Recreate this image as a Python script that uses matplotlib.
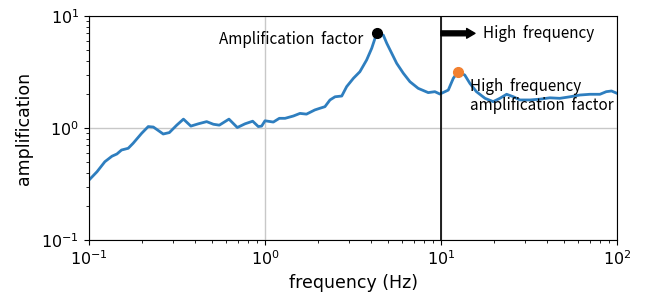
import matplotlib.pyplot as plt
import numpy as np

# Amplification spectrum
freq = [0.1, 0.111, 0.123, 0.135, 0.144, 0.153, 0.167, 0.178, 0.199, 0.217,
        0.232, 0.264, 0.286, 0.315, 0.344, 0.379, 0.418, 0.466, 0.509, 0.55,
        0.624, 0.696, 0.77, 0.851, 0.916, 0.957, 1.0, 1.115, 1.206, 1.30,
        1.45, 1.58, 1.72, 1.92, 2.05, 2.19, 2.34, 2.50, 2.73, 2.91,
        3.18, 3.46, 3.78, 4.04, 4.31, 4.70, 4.92, 5.25, 5.60, 6.11,
        6.66, 7.42, 8.46, 9.23, 9.86, 11.0, 11.75, 12.5, 13.65, 14.6,
        15.9, 17.8, 19.8, 21.6, 23.6, 25.8, 28.1, 32.1, 36.6, 41.6,
        47.3, 54.1, 61.6, 70.2, 80.0, 86.9, 93.1, 100.0]
amp = [0.343, 0.407, 0.50, 0.56, 0.586, 0.636, 0.659, 0.73, 0.896, 1.03,
       1.02, 0.884, 0.91, 1.06, 1.20, 1.04, 1.09, 1.14, 1.08, 1.06,
       1.20, 1.01, 1.09, 1.15, 1.03, 1.04, 1.16, 1.13, 1.22, 1.22,
       1.28, 1.35, 1.33, 1.45, 1.50, 1.55, 1.78, 1.90, 1.93, 2.34,
       2.78, 3.18, 4.05, 5.15, 7.0, 6.75, 5.7, 4.64, 3.78, 3.08,
       2.59, 2.26, 2.07, 2.11, 2.01, 2.18, 2.78, 3.18, 2.97, 2.5,
       2.11, 1.84, 1.72, 1.84, 2.0, 1.90, 1.78, 1.78, 1.81, 1.86,
       1.84, 1.90, 1.97, 2.0, 2.0, 2.11, 2.14, 2.04]

peak = (4.31, 7.0)
hf_peak = (12.5, 3.18)
split_freq = 10

text_font = ['Noto Sans CJK KR', 'DejaVu Sans']

fig = plt.figure(figsize=(6.47, 2.95), dpi=100)
ax = fig.add_axes([0.1376, 0.1864, 0.816, 0.7594])

ax.plot(freq, amp, color='#2e7ebf', linewidth=2, solid_joinstyle='round')
ax.plot(*peak, 'o', color='black', markersize=7, zorder=5)
ax.plot(*hf_peak, 'o', color='#f28030', markersize=7, zorder=5)

ax.axvline(split_freq, color='black', linewidth=1.2)

ax.set_xscale('log')
ax.set_yscale('log')
ax.set_xlim(0.1, 100)
ax.set_ylim(0.1, 10)
ax.grid(True, which='major', color='#c8c8c8', linewidth=1)

ax.annotate('', xy=(15.6, 7.0), xytext=(10, 7.0),
            arrowprops=dict(arrowstyle='simple,head_width=0.7,head_length=0.6,tail_width=0.35',
                            color='black', shrinkA=0, shrinkB=0))
ax.text(17.3, 7.0, 'High  frequency', ha='left', va='center',
        fontsize=11, family=text_font)
ax.text(3.6, 6.2, 'Amplification  factor', ha='right', va='center',
        fontsize=11, family=text_font)
ax.text(14.6, 1.93, 'High  frequency\namplification  factor', ha='left', va='center',
        fontsize=11, family=text_font, linespacing=1.15)

ax.set_xlabel('frequency (Hz)', fontsize=12.5)
ax.set_ylabel('amplification', fontsize=12.5, labelpad=6)
ax.tick_params(labelsize=11.5)

fig.savefig('out.png', dpi=100)
